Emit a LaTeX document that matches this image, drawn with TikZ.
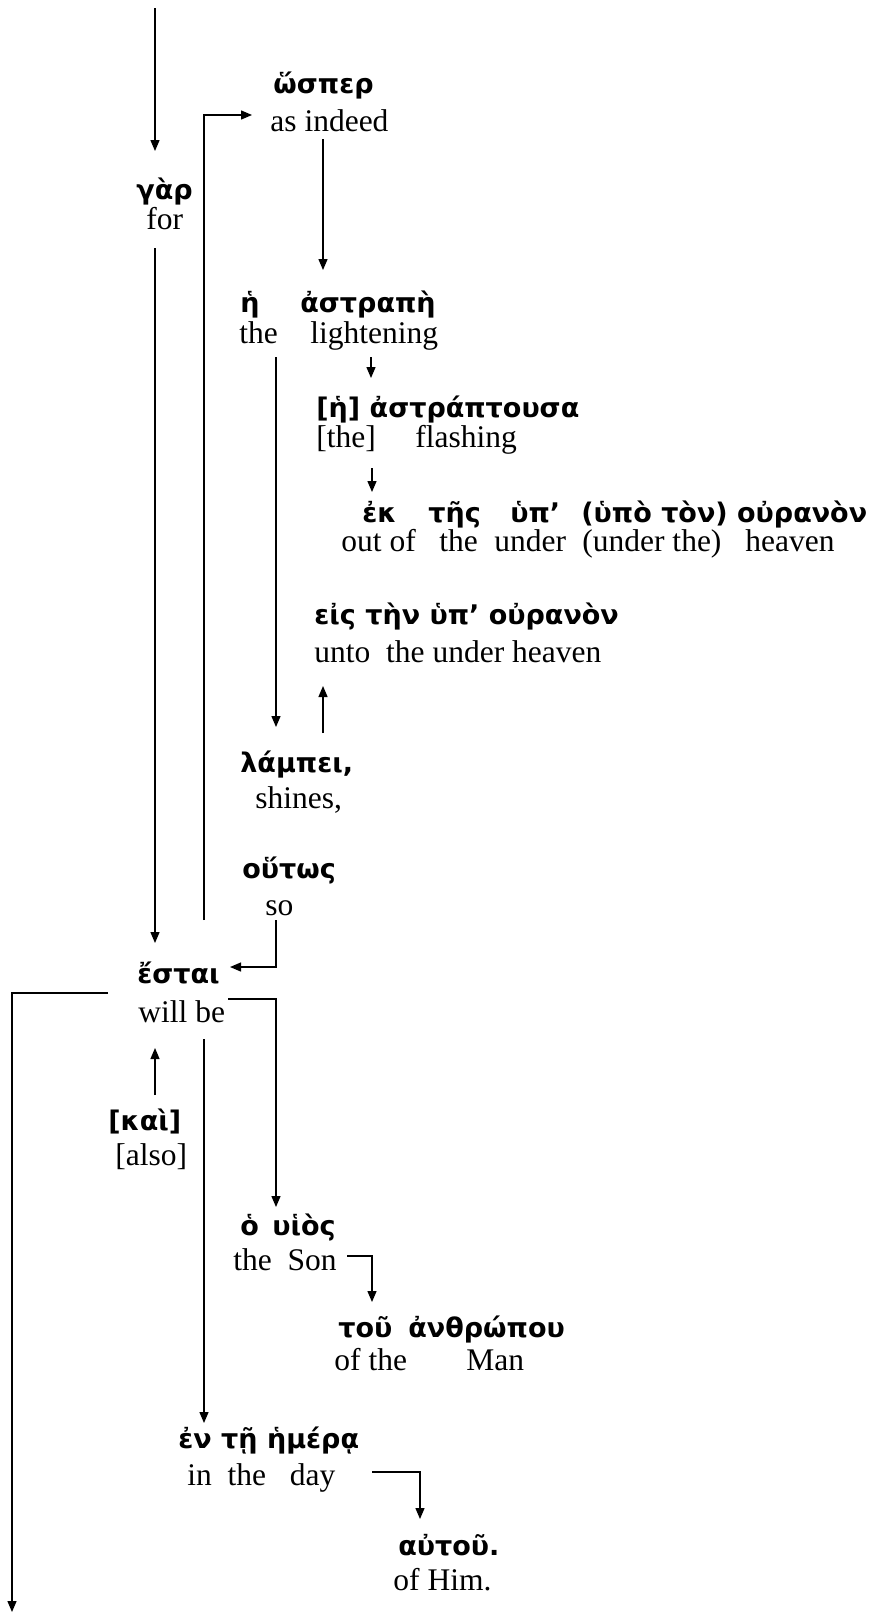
\documentclass[tikz,border=0pt]{standalone}
\usepackage{fontspec}
\setmainfont{Liberation Serif}
\newfontfamily\gkfont{DejaVu Sans}
\usetikzlibrary{arrows.meta,calc}

\begin{document}
\begin{tikzpicture}[x=0.5pt,y=-0.5pt,
    gk/.style={anchor=base west,inner sep=0pt,font=\gkfont\bfseries\fontsize{13.5}{16}\selectfont},
    en/.style={anchor=base west,inner sep=0pt,font=\fontsize{15.75}{18}\selectfont},
    arr/.style={line width=0.65pt,-{Triangle[length=5.5pt,width=4.5pt]}}]
    \useasboundingbox (0,0) rectangle (868,1612);
    % greek lines
    \node[gk] (hosper) at (273,93) {ὥσπερ};
    \node[gk] (gar) at (136,199) {γὰρ};
    \node[gk] (he) at (240,312) {ἡ};
    \node[gk] (astrape) at (300,312) {ἀστραπὴ};
    \node[gk] (astraptousa) at (316,417) {[ἡ] ἀστράπτουσα};
    \node[gk] (ek) at (362,522) {ἐκ};
    \node[gk] (tes) at (428,522) {τῆς};
    \node[gk] (hyp) at (510,522) {ὑπ’};
    \node[gk] (hypoton) at (581,522) {(ὑπὸ τὸν) οὐρανὸν};
    \node[gk] (eis) at (314,624) {εἰς τὴν ὑπ’ οὐρανὸν};
    \node[gk] (lampei) at (240,772) {λάμπει,};
    \node[gk] (houtos) at (242,878) {οὕτως};
    \node[gk] (estai) at (137,983) {ἔσται};
    \node[gk] (kai) at (108,1130) {[καὶ]};
    \node[gk] (ho) at (240,1235) {ὁ};
    \node[gk] (huios) at (272,1235) {υἱὸς};
    \node[gk] (tou) at (338,1337) {τοῦ};
    \node[gk] (anthropou) at (408,1337) {ἀνθρώπου};
    \node[gk] (en) at (178,1448) {ἐν τῇ ἡμέρᾳ};
    \node[gk] (autou) at (398,1555) {αὐτοῦ.};
    % english lines
    \node[en] (asindeed) at (270,131) {as indeed};
    \node[en] (for) at (146,229) {for};
    \node[en] (the) at (239,343) {the};
    \node[en] (lightening) at (310,343) {lightening};
    \node[en] (thebr) at (316,447) {[the]};
    \node[en] (flashing) at (415,447) {flashing};
    \node[en] (outof) at (341,551) {out of};
    \node[en] (theB) at (439,551) {the};
    \node[en] (under) at (494,551) {under};
    \node[en] (underthe) at (582,551) {(under the)};
    \node[en] (heaven) at (745,551) {heaven};
    \node[en] (unto) at (314,662) {unto\ \ the under heaven};
    \node[en] (shines) at (255,808) {shines,};
    \node[en] (so) at (265,915) {so};
    \node[en] (willbe) at (138,1022) {will be};
    \node[en] (also) at (115,1165) {[also]};
    \node[en] (theson) at (233,1270) {the\ \ Son};
    \node[en] (ofthe) at (334,1370) {of the};
    \node[en] (man) at (466,1370) {Man};
    \node[en] (inday) at (187,1485) {in\ \ the\ \ \ day};
    \node[en] (ofhim) at (393,1590) {of Him.};
    % free ends
    \coordinate (top) at (155,8);
    \coordinate (bottom) at (12,1612);
    % connectors
    \draw[arr] (top) -- ($(gar.base west)+(19,-48)$);
    \draw[arr] ($(for.base west)+(9,19)$) -- ($(estai.base west)+(18,-40)$);
    \draw[arr] ($(estai.base west)+(67,-63)$) |- ($(asindeed.base west)+(-18,-16)$);
    \draw[arr] ($(asindeed.base west)+(53,8)$) -- ($(astrape.base west)+(23,-42)$);
    \draw[arr] ($(lightening.base west)+(61,14)$) -- ($(astraptousa.base west)+(55,-39)$);
    \draw[arr] ($(flashing.base west)+(-43,21)$) -- ($(ek.base west)+(10,-30)$);
    \draw[arr] ($(the.base west)+(37,14)$) -- ($(lampei.base west)+(36,-45)$);
    \draw[arr] ($(lampei.base west)+(83,-39)$) -- ($(unto.base west)+(9,24)$);
    \draw[arr] ($(so.base west)+(11,5)$) |- ($(estai.base west)+(93,-16)$);
    \draw[arr] ($(estai.base west)+(-29,10)$) -| (bottom);
    \draw[arr] ($(willbe.base west)+(90,-23)$) -| ($(ho.base west)+(36,-28)$);
    \draw[arr] ($(willbe.base west)+(66,17)$) -- ($(en.base west)+(26,-25)$);
    \draw[arr] ($(kai.base west)+(47,-35)$) -- ($(willbe.base west)+(17,26)$);
    \draw[arr] ($(theson.base west)+(114,-14)$) -| ($(tou.base west)+(34,-35)$);
    \draw[arr] ($(inday.base west)+(185,-13)$) -| ($(autou.base west)+(22,-36)$);
\end{tikzpicture}
\end{document}
